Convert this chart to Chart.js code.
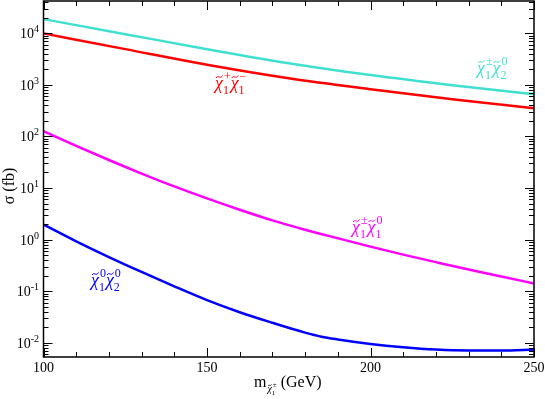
<!DOCTYPE html>
<html>
<head>
<meta charset="utf-8">
<script src="https://cdn.jsdelivr.net/npm/chart.js@4.4.0/dist/chart.umd.min.js"></script>
<style>
html, body { margin: 0; padding: 0; background: #fff; }
</style>
</head>
<body>
<canvas id="xsec-chart" width="545" height="399"></canvas>
<script>
/* data */
var massCoarse = [100, 125, 150, 175, 200, 225, 250];
var sigmaC1C1 = [9900, 4900, 2450, 1340, 822, 526, 352];
var sigmaC1N2 = [18700, 9570, 4900, 2620, 1540, 982, 658];

var massC1N1 = [100, 110, 120, 130, 140, 150, 160, 170, 180, 190, 200, 210, 220, 230, 240, 250];
var sigmaC1N1 = [126, 65.5, 34.8, 19.0, 10.7, 6.27, 3.78, 2.35, 1.55, 1.06, 0.73, 0.51, 0.365, 0.263, 0.193, 0.141];

var massN1N2 = [100, 110, 120, 130, 140, 150, 160, 170, 180, 185, 190, 200, 210, 220, 230, 240, 250];
var sigmaN1N2 = [1.96, 0.927, 0.459, 0.236, 0.124, 0.0671, 0.0391, 0.0244, 0.0157, 0.0131, 0.0116, 0.0095, 0.0082, 0.0074, 0.0071, 0.0071, 0.0074];

var xMajorTicks = [100, 150, 200, 250];
var yDecades = [-2, -1, 0, 1, 2, 3, 4];

function toPoints(xs, ys){
    var pts = [];
    for(var i = 0; i < xs.length; i++){
        pts.push({x: xs[i], y: ys[i]});
    }
    return pts;
}

var FONT = '"Liberation Serif", "DejaVu Serif", serif';

/* chi with tilde, subscript and superscript */
function drawChi(ctx, x, y, size, sub, sup){
    ctx.textAlign = 'left';
    ctx.textBaseline = 'alphabetic';
    ctx.font = 'italic ' + size + 'px ' + FONT;
    ctx.fillText('χ', x, y);
    var w = ctx.measureText('χ').width;
    /* tilde as a small wave */
    var ty = y - size * 0.68;
    var amp = size * 0.07;
    ctx.save();
    ctx.strokeStyle = ctx.fillStyle;
    ctx.lineWidth = Math.max(0.8, size * 0.055);
    ctx.beginPath();
    ctx.moveTo(x + w * 0.15, ty + amp);
    ctx.bezierCurveTo(x + w * 0.35, ty - amp * 2, x + w * 0.65, ty + amp * 2.5, x + w * 0.95, ty - amp);
    ctx.stroke();
    ctx.restore();
    ctx.font = Math.round(size * 0.65) + 'px ' + FONT;
    ctx.fillText(sub, x + w, y + size * 0.25);
    ctx.fillText(sup, x + w + 1, y - size * 0.48);
    return x + w + 1 + Math.max(ctx.measureText(sub).width, ctx.measureText(sup).width);
}

function drawPair(ctx, x, y, size, color, a, b){
    ctx.save();
    ctx.fillStyle = color;
    var nx = drawChi(ctx, x, y, size, a[0], a[1]);
    drawChi(ctx, nx, y, size, b[0], b[1]);
    ctx.restore();
}

var framePlugin = {
    id: 'frame',
    afterDraw: function(chart){
        var ctx = chart.ctx;
        var xs = chart.scales.x, ys = chart.scales.y;
        var a = chart.chartArea;
        ctx.save();
        ctx.strokeStyle = '#000';
        ctx.lineWidth = 1.5;
        ctx.strokeRect(a.left, a.top, a.right - a.left, a.bottom - a.top);

        ctx.lineWidth = 1;
        ctx.beginPath();
        /* x ticks every 10, bottom and top, pointing inward */
        for(var m = 100; m <= 250; m += 10){
            var px = Math.round(xs.getPixelForValue(m)) + 0.5;
            var len = (m % 50 == 0) ? 9 : 5;
            ctx.moveTo(px, a.bottom); ctx.lineTo(px, a.bottom - len);
            ctx.moveTo(px, a.top); ctx.lineTo(px, a.top + len);
        }
        /* y ticks, decades and 2..9 */
        for(var e = -3; e <= 4; e++){
            for(var k = 1; k <= 9; k++){
                var v = k * Math.pow(10, e);
                if(v < ys.min || v > ys.max) continue;
                var py = Math.round(ys.getPixelForValue(v)) + 0.5;
                var l = (k == 1) ? 9 : 5;
                ctx.moveTo(a.left, py); ctx.lineTo(a.left + l, py);
                ctx.moveTo(a.right, py); ctx.lineTo(a.right - l, py);
            }
        }
        ctx.stroke();

        /* tick labels */
        ctx.fillStyle = '#000';
        ctx.textBaseline = 'alphabetic';
        ctx.font = '14px ' + FONT;
        ctx.textAlign = 'center';
        for(var i = 0; i < xMajorTicks.length; i++){
            ctx.fillText(String(xMajorTicks[i]), xs.getPixelForValue(xMajorTicks[i]), a.bottom + 15);
        }
        for(var j = 0; j < yDecades.length; j++){
            var ty = ys.getPixelForValue(Math.pow(10, yDecades[j]));
            var expTxt = yDecades[j] < 0 ? '-' + (-yDecades[j]) : String(yDecades[j]);
            ctx.font = '10px ' + FONT;
            var ew = ctx.measureText(expTxt).width;
            ctx.textAlign = 'left';
            ctx.fillText(expTxt, 39 - ew, ty - 1);
            ctx.font = '14px ' + FONT;
            ctx.textAlign = 'right';
            ctx.fillText('10', 39 - ew, ty + 5);
        }

        /* axis titles */
        ctx.textAlign = 'left';
        ctx.font = '16px ' + FONT;
        ctx.fillText('m', 254, 387);
        var mw = ctx.measureText('m').width;
        var after = drawChi(ctx, 254 + mw + 1, 392, 10, '1', '±');
        ctx.font = '16px ' + FONT;
        ctx.fillText('(GeV)', after + 4, 387);

        ctx.save();
        ctx.translate(14, 186);
        ctx.rotate(-Math.PI / 2);
        ctx.textAlign = 'center';
        ctx.font = '16px ' + FONT;
        ctx.fillText('σ (fb)', 0, 0);
        ctx.restore();

        /* curve labels */
        drawPair(ctx, 215, 89, 18, '#ff0000', ['1', '+'], ['1', '−']);
        drawPair(ctx, 477, 74, 18, '#40e0d0', ['1', '±'], ['2', '0']);
        drawPair(ctx, 352, 233, 18, '#ff00ff', ['1', '±'], ['1', '0']);
        drawPair(ctx, 91, 286, 18, '#0000ff', ['1', '0'], ['2', '0']);
        ctx.restore();
    }
};

var lineStyle = {
    borderWidth: 2.5,
    pointRadius: 0,
    fill: false,
    cubicInterpolationMode: 'monotone'
};

var ctxEl = document.getElementById('xsec-chart');
var chart = new Chart(ctxEl, {
    type: 'line',
    data: {
        datasets: [
            Object.assign({label: 'C1N2', data: toPoints(massCoarse, sigmaC1N2), borderColor: '#40e0d0'}, lineStyle),
            Object.assign({label: 'C1C1', data: toPoints(massCoarse, sigmaC1C1), borderColor: '#ff0000'}, lineStyle),
            Object.assign({label: 'C1N1', data: toPoints(massC1N1, sigmaC1N1), borderColor: '#ff00ff'}, lineStyle),
            Object.assign({label: 'N1N2', data: toPoints(massN1N2, sigmaN1N2), borderColor: '#0000ff'}, lineStyle)
        ]
    },
    options: {
        responsive: false,
        animation: false,
        devicePixelRatio: 1,
        layout: { padding: { left: 0, right: 11, top: 1, bottom: 0 } },
        plugins: { legend: { display: false }, tooltip: { enabled: false } },
        scales: {
            x: {
                type: 'linear', min: 100, max: 250,
                grid: { display: false }, border: { display: false },
                ticks: { display: false },
                afterFit: function(s){ s.height = 42; }
            },
            y: {
                type: 'logarithmic', min: 5.3e-3, max: 4.2e4,
                grid: { display: false }, border: { display: false },
                ticks: { display: false },
                afterFit: function(s){ s.width = 43.5; }
            }
        }
    },
    plugins: [framePlugin]
});
</script>
</body>
</html>
